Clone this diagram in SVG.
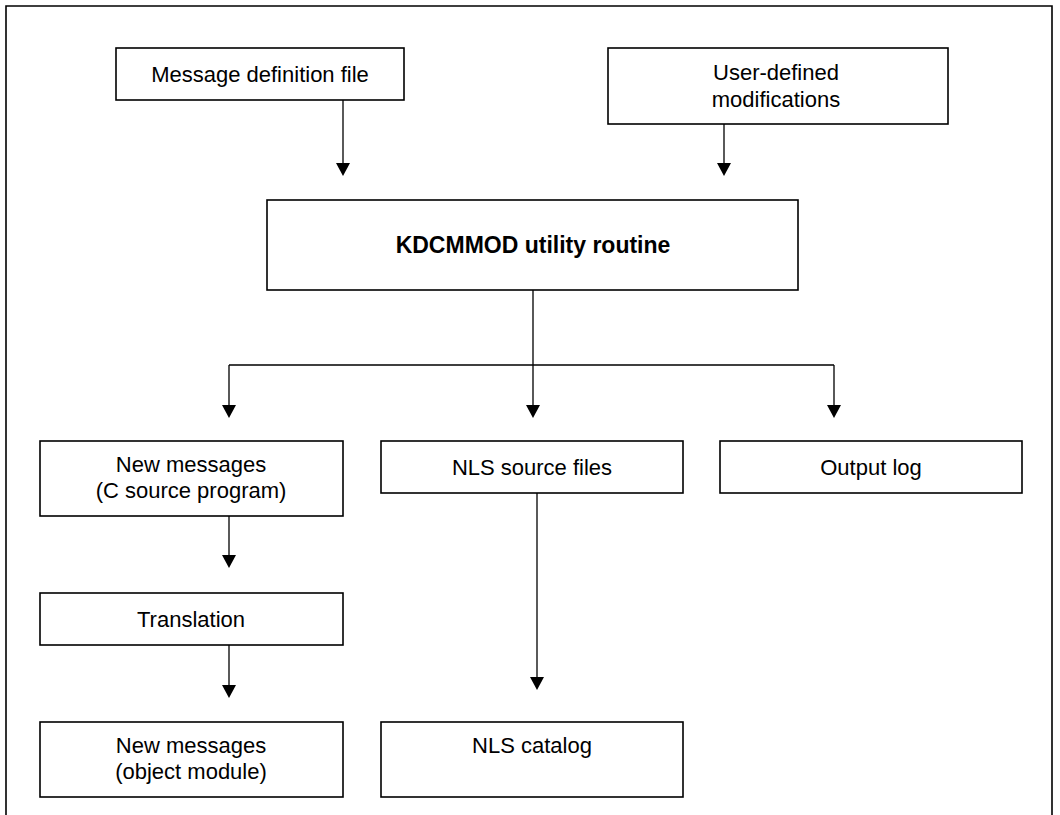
<svg xmlns="http://www.w3.org/2000/svg" width="1060" height="815" viewBox="0 0 1060 815">
<defs>
<style>
.box{fill:#fff;stroke:#000;stroke-width:1.6}
.t{font-family:"Liberation Sans",Arial,sans-serif;font-size:22px;fill:#000;text-anchor:middle}
.b{font-weight:bold;font-size:23px}
.c{fill:none;stroke:#000;stroke-width:1.3}
</style>
</defs>
<rect width="1060" height="815" fill="#fff"/>
<path d="M6,815 V6 H1052 V815" fill="none" stroke="#000" stroke-width="1.6"/>
<g id="connectors">
<line class="c" x1="343" y1="100" x2="343" y2="163"/>
<path d="M336,163 H350 L343,176 Z"/>
<line class="c" x1="724" y1="124" x2="724" y2="163"/>
<path d="M717,163 H731 L724,176 Z"/>
<path class="c" d="M533,290 V365 M229,365 H834 M229,365 V405 M533,365 V405 M834,365 V405"/>
<path d="M222,405 H236 L229,418 Z"/>
<path d="M526,405 H540 L533,418 Z"/>
<path d="M827,405 H841 L834,418 Z"/>
<line class="c" x1="229" y1="516" x2="229" y2="555"/>
<path d="M222,555 H236 L229,568 Z"/>
<line class="c" x1="229" y1="645" x2="229" y2="685"/>
<path d="M222,685 H236 L229,698 Z"/>
<line class="c" x1="537" y1="493" x2="537" y2="677"/>
<path d="M530,677 H544 L537,690 Z"/>
</g>
<g id="msgdef">
<rect class="box" x="116" y="48" width="288" height="52"/>
<text class="t" x="260" y="82">Message definition file</text>
</g>
<g id="usermod">
<rect class="box" x="608" y="48" width="340" height="76"/>
<text class="t" x="776" y="80">User-defined</text>
<text class="t" x="776" y="107">modifications</text>
</g>
<g id="kdcmmod">
<rect class="box" x="267" y="200" width="531" height="90"/>
<text class="t b" x="533" y="253">KDCMMOD utility routine</text>
</g>
<g id="newmsgc">
<rect class="box" x="40" y="441" width="303" height="75"/>
<text class="t" x="191" y="472">New messages</text>
<text class="t" x="191" y="498">(C source program)</text>
</g>
<g id="nlssrc">
<rect class="box" x="381" y="441" width="302" height="52"/>
<text class="t" x="532" y="475">NLS source files</text>
</g>
<g id="outlog">
<rect class="box" x="720" y="441" width="302" height="52"/>
<text class="t" x="871" y="475">Output log</text>
</g>
<g id="translation">
<rect class="box" x="40" y="593" width="303" height="52"/>
<text class="t" x="191" y="627">Translation</text>
</g>
<g id="newmsgobj">
<rect class="box" x="40" y="722" width="303" height="75"/>
<text class="t" x="191" y="753">New messages</text>
<text class="t" x="191" y="779">(object module)</text>
</g>
<g id="nlscat">
<rect class="box" x="381" y="722" width="302" height="75"/>
<text class="t" x="532" y="753">NLS catalog</text>
</g>
</svg>
